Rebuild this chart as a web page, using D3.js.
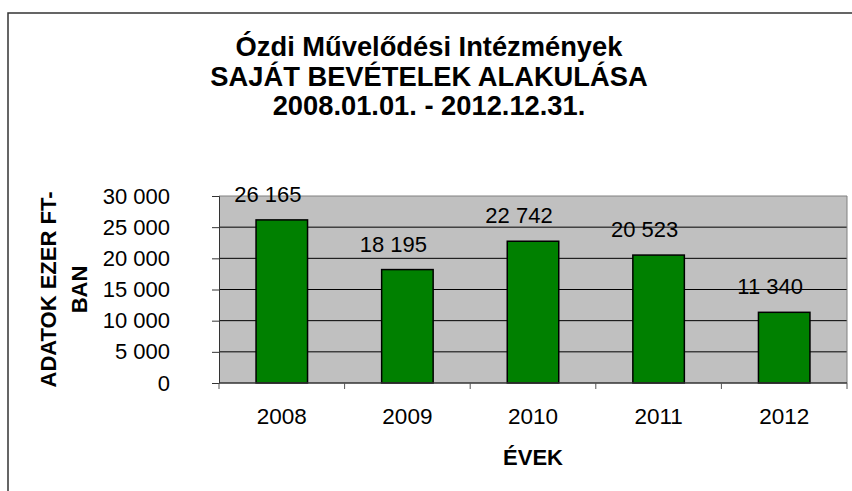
<!DOCTYPE html>
<html>
<head>
<meta charset="utf-8">
<script src="https://cdn.jsdelivr.net/npm/d3@7"></script>
<style>
  body { margin: 0; background: #fff; }
  text { font-family: "Liberation Sans", Arial, sans-serif; fill: #000; }
</style>
</head>
<body>
<svg id="chart" width="852" height="491"></svg>
<script>
var years = ["2008", "2009", "2010", "2011", "2012"];
var values = [26165, 18195, 22742, 20523, 11340];
var yTicks = [0, 5000, 10000, 15000, 20000, 25000, 30000];
var titleLines = ["Ózdi Művelődési Intézmények", "SAJÁT BEVÉTELEK ALAKULÁSA", "2008.01.01. - 2012.12.31."];
var yTitleLines = ["ADATOK EZER FT-", "BAN"];
var xTitle = "ÉVEK";

var svg = d3.select("#chart"),
    margin = {top: 196, right: 5, bottom: 108, left: 219},
    width = 847 - margin.left,
    height = 383 - margin.top;

var data = years.map(function(d, i) { return {year: d, value: values[i]}; });

// outer frame, right and bottom run off the picture
svg.append("rect")
    .attr("x", 8).attr("y", 13)
    .attr("width", 860).attr("height", 500)
    .attr("fill", "none")
    .attr("stroke", "#333")
    .attr("stroke-width", 1.5);

var fmt = function(v) { return d3.format(",")(v).replace(/,/g, " "); };

var x = d3.scaleBand().domain(years).range([0, width]).paddingInner(0.59).paddingOuter(0.295);
var xb = d3.scaleBand().domain(years).range([0, width]);
var y = d3.scaleLinear().domain([0, 30000]).range([height, 0]);

var g = svg.append("g")
    .attr("transform", "translate(" + margin.left + "," + margin.top + ")");

g.append("rect")
    .attr("width", width).attr("height", height)
    .attr("fill", "#c0c0c0");

// gridlines
g.append("g")
    .selectAll("line")
    .data(yTicks.filter(function(d) { return d > 0 && d < 30000; }))
  .enter().append("line")
    .attr("x1", 0).attr("x2", width)
    .attr("y1", function(d) { return y(d); })
    .attr("y2", function(d) { return y(d); })
    .attr("stroke", "#000")
    .attr("stroke-width", 1);

// plot border top/right
g.append("path")
    .attr("d", "M0,0H" + width + "V" + height)
    .attr("fill", "none")
    .attr("stroke", "#808080")
    .attr("stroke-width", 1);

// y axis
var yAxis = g.append("g")
    .call(d3.axisLeft(y).tickValues(yTicks).tickSize(7).tickPadding(42).tickFormat(fmt));
yAxis.select(".domain").attr("stroke", "#333");
yAxis.selectAll(".tick line").attr("stroke", "#333");
yAxis.selectAll("text")
    .attr("font-size", "22px")
    .attr("font-family", "Liberation Sans, Arial, sans-serif")
    .attr("fill", "#000");

// bars
g.append("g")
    .selectAll("rect")
    .data(data)
  .enter().append("rect")
    .attr("x", function(d) { return x(d.year); })
    .attr("y", function(d) { return y(d.value); })
    .attr("width", x.bandwidth())
    .attr("height", function(d) { return height - y(d.value); })
    .attr("fill", "#008000")
    .attr("stroke", "#000")
    .attr("stroke-width", 1.5);

// value labels (sit a little left of bar centre, as in the original)
g.append("g")
    .selectAll("text")
    .data(data)
  .enter().append("text")
    .attr("x", function(d) { return x(d.year) + x.bandwidth() / 2 - 14; })
    .attr("y", function(d) { return y(d.value) - 18; })
    .attr("text-anchor", "middle")
    .attr("font-size", "22px")
    .text(function(d) { return fmt(d.value); });

// x axis, ticks at band edges
var xAxis = g.append("g")
    .attr("transform", "translate(0," + height + ")");
xAxis.append("line")
    .attr("x1", 0).attr("x2", width)
    .attr("stroke", "#333").attr("stroke-width", 1.5);
xAxis.selectAll(".edge")
    .data(years.concat(["end"]))
  .enter().append("line")
    .attr("class", "edge")
    .attr("x1", function(d) { return d === "end" ? width : xb(d); })
    .attr("x2", function(d) { return d === "end" ? width : xb(d); })
    .attr("y1", 0).attr("y2", 6)
    .attr("stroke", "#555");
xAxis.selectAll(".lbl")
    .data(years)
  .enter().append("text")
    .attr("class", "lbl")
    .attr("x", function(d) { return xb(d) + xb.bandwidth() / 2; })
    .attr("y", 41)
    .attr("text-anchor", "middle")
    .attr("font-size", "22.5px")
    .text(function(d) { return d; });

xAxis.append("text")
    .attr("x", width / 2)
    .attr("y", 82)
    .attr("text-anchor", "middle")
    .attr("font-size", "22px")
    .attr("font-weight", "bold")
    .text(xTitle);

// y title
var yt = svg.append("text")
    .attr("transform", "translate(0," + (margin.top + height / 2) + ") rotate(-90)")
    .attr("text-anchor", "middle")
    .attr("font-size", "22px")
    .attr("font-weight", "bold");
yt.selectAll("tspan")
    .data(yTitleLines)
  .enter().append("tspan")
    .attr("x", 0)
    .attr("y", function(d, i) { return 56 + i * 31; })
    .text(function(d) { return d; });

// title
svg.append("g")
    .selectAll("text")
    .data(titleLines)
  .enter().append("text")
    .attr("x", 429)
    .attr("y", function(d, i) { return 56 + i * 29.5; })
    .attr("text-anchor", "middle")
    .attr("font-size", "27.3px")
    .attr("font-weight", "bold")
    .text(function(d) { return d; });
</script>
</body>
</html>
